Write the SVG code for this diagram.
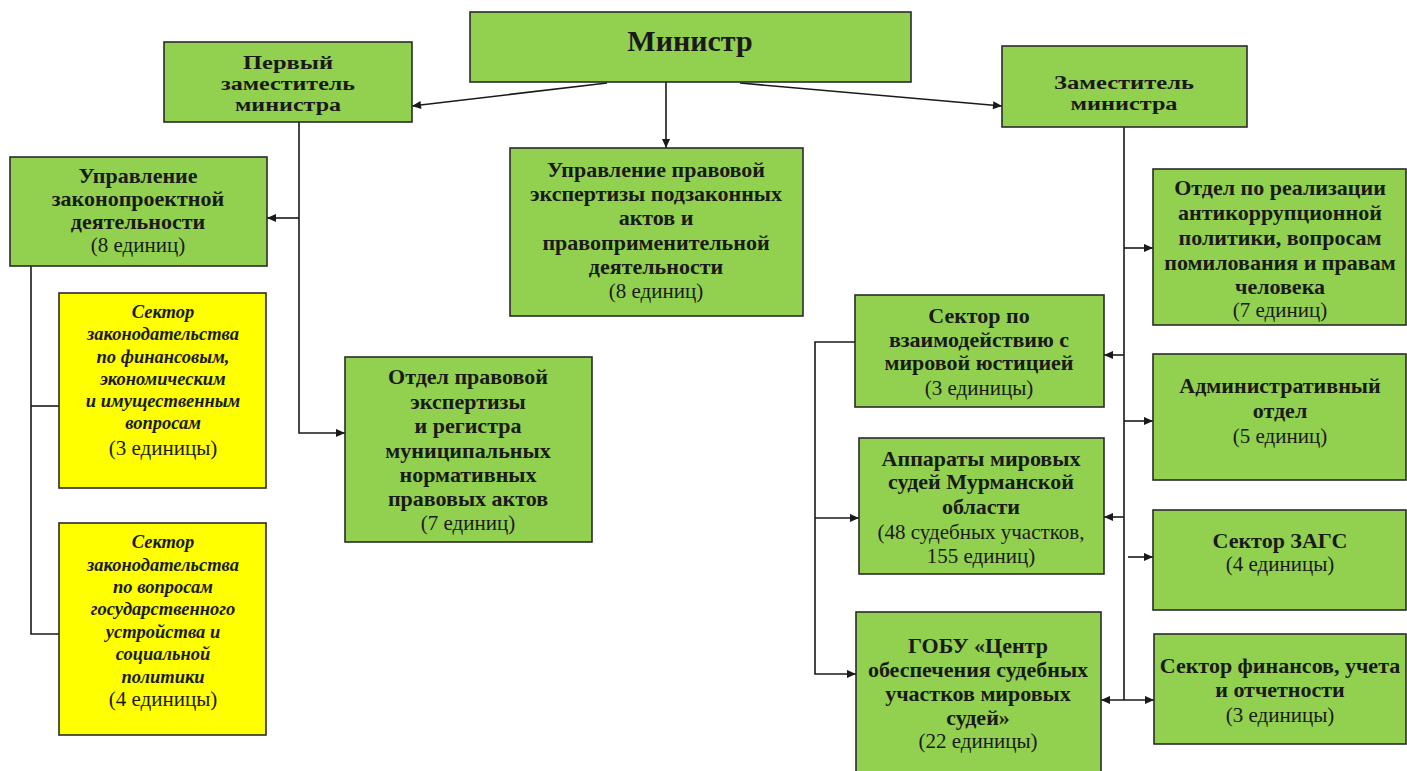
<svg xmlns="http://www.w3.org/2000/svg" width="1407" height="771" viewBox="0 0 1407 771">
<defs>
<style>
.g{fill:#92D050;stroke:#2b2b2b;stroke-width:1.6}
.y{fill:#FFFF00;stroke:#2b2b2b;stroke-width:1.6}
text{font-family:"Liberation Serif","Times New Roman",serif;fill:#1a1a1a;text-anchor:middle}
.b{font-weight:bold;font-size:22px}
.h{font-weight:bold;font-size:18px}
.m{font-weight:bold;font-size:30px}
.r{font-size:21px}
.i{font-style:italic;font-weight:bold;font-size:18.5px}
.c{fill:none;stroke:#1a1a1a;stroke-width:1.6}
</style>
<marker id="a" viewBox="0 0 10 10" refX="10" refY="5" markerWidth="10" markerHeight="9" markerUnits="userSpaceOnUse" orient="auto-start-reverse">
<path d="M0,0.5 L10,5 L0,9.5 z" fill="#1a1a1a"/>
</marker>
</defs>
<rect width="1407" height="771" fill="#ffffff"/>

<g id="connectors">
<path class="c" d="M607,83 L412,106" marker-end="url(#a)"/>
<path class="c" d="M740,83 L1002,106" marker-end="url(#a)"/>
<path class="c" d="M666,82 L666,148" marker-end="url(#a)"/>
<path class="c" d="M299,122 L299,433 L345,433" marker-end="url(#a)"/>
<path class="c" d="M299,218 L267,218" marker-end="url(#a)"/>
<path class="c" d="M31,266 L31,634 L59,634"/>
<path class="c" d="M31,406 L59,406"/>
<path class="c" d="M1124,127 L1124,700"/>
<path class="c" d="M1124,248 L1153,248" marker-end="url(#a)"/>
<path class="c" d="M1124,355 L1104,355" marker-end="url(#a)"/>
<path class="c" d="M1124,421 L1153,421" marker-end="url(#a)"/>
<path class="c" d="M1124,517 L1104,517" marker-end="url(#a)"/>
<path class="c" d="M1128,557 L1153,557" marker-end="url(#a)"/>
<path class="c" d="M1101,700 L1154,700" marker-start="url(#a)" marker-end="url(#a)"/>
<path class="c" d="M855,342 L815,342 L815,674 L856,674" marker-end="url(#a)"/>
<path class="c" d="M815,518 L859,518" marker-end="url(#a)"/>
</g>

<g id="minister">
<rect class="g" x="470" y="12" width="441" height="70"/>
<text class="m" x="690" y="51">Министр</text>
</g>

<g id="first-deputy">
<rect class="g" x="164" y="42" width="248" height="80"/>
<text class="h" x="288" y="69" textLength="90" lengthAdjust="spacingAndGlyphs">Первый</text>
<text class="h" x="288" y="90" textLength="134" lengthAdjust="spacingAndGlyphs">заместитель</text>
<text class="h" x="288" y="111" textLength="106" lengthAdjust="spacingAndGlyphs">министра</text>
</g>

<g id="deputy">
<rect class="g" x="1002" y="46" width="245" height="81"/>
<text class="h" x="1124" y="89" textLength="140" lengthAdjust="spacingAndGlyphs">Заместитель</text>
<text class="h" x="1124" y="110" textLength="107" lengthAdjust="spacingAndGlyphs">министра</text>
</g>

<g id="lawmaking">
<rect class="g" x="10" y="157" width="257" height="109"/>
<text class="b"><tspan x="138" y="183">Управление</tspan><tspan x="138" y="206">законопроектной</tspan><tspan x="138" y="229">деятельности</tspan></text>
<text class="r" x="138" y="252">(8 единиц)</text>
</g>

<g id="legal-expertise">
<rect class="g" x="510" y="148" width="293" height="168"/>
<text class="b"><tspan x="656" y="177">Управление правовой</tspan><tspan x="656" y="201">экспертизы подзаконных</tspan><tspan x="656" y="225">актов и</tspan><tspan x="656" y="250">правоприменительной</tspan><tspan x="656" y="274">деятельности</tspan></text>
<text class="r" x="656" y="298">(8 единиц)</text>
</g>

<g id="sector-finance-law">
<rect class="y" x="59" y="293" width="207" height="195"/>
<text class="i"><tspan x="163" y="318">Сектор</tspan><tspan x="163" y="340">законодательства</tspan><tspan x="163" y="363">по финансовым,</tspan><tspan x="163" y="385">экономическим</tspan><tspan x="163" y="407">и имущественным</tspan><tspan x="163" y="429">вопросам</tspan></text>
<text class="r" x="163" y="455">(3 единицы)</text>
</g>

<g id="sector-state-law">
<rect class="y" x="59" y="523" width="207" height="212"/>
<text class="i"><tspan x="163" y="548">Сектор</tspan><tspan x="163" y="571">законодательства</tspan><tspan x="163" y="593">по вопросам</tspan><tspan x="163" y="615">государственного</tspan><tspan x="163" y="638">устройства  и</tspan><tspan x="163" y="660">социальной</tspan><tspan x="163" y="683">политики</tspan></text>
<text class="r" x="163" y="706">(4 единицы)</text>
</g>

<g id="municipal-register">
<rect class="g" x="345" y="357" width="247" height="185"/>
<text class="b"><tspan x="468" y="384">Отдел правовой</tspan><tspan x="468" y="409">экспертизы</tspan><tspan x="468" y="433">и регистра</tspan><tspan x="468" y="458">муниципальных</tspan><tspan x="468" y="482">нормативных</tspan><tspan x="468" y="506">правовых актов</tspan></text>
<text class="r" x="468" y="530">(7 единиц)</text>
</g>

<g id="anticorruption">
<rect class="g" x="1153" y="169" width="253" height="156"/>
<text class="b"><tspan x="1280" y="195">Отдел по реализации</tspan><tspan x="1280" y="220">антикоррупционной</tspan><tspan x="1280" y="245">политики, вопросам</tspan><tspan x="1280" y="270">помилования  и правам</tspan><tspan x="1280" y="294">человека</tspan></text>
<text class="r" x="1280" y="317">(7 единиц)</text>
</g>

<g id="justice-sector">
<rect class="g" x="855" y="295" width="249" height="112"/>
<text class="b"><tspan x="979" y="323">Сектор по</tspan><tspan x="979" y="347">взаимодействию с</tspan><tspan x="979" y="370">мировой юстицией</tspan></text>
<text class="r" x="979" y="395">(3 единицы)</text>
</g>

<g id="admin">
<rect class="g" x="1153" y="354" width="253" height="126"/>
<text class="b"><tspan x="1280" y="393">Административный</tspan><tspan x="1280" y="418">отдел</tspan></text>
<text class="r" x="1280" y="443">(5 единиц)</text>
</g>

<g id="judges-apparatus">
<rect class="g" x="859" y="438" width="245" height="136"/>
<text class="b"><tspan x="981" y="466">Аппараты мировых</tspan><tspan x="981" y="489">судей Мурманской</tspan><tspan x="981" y="514">области</tspan></text>
<text class="r"><tspan x="981" y="539">(48 судебных участков,</tspan><tspan x="981" y="563">155 единиц)</tspan></text>
</g>

<g id="zags">
<rect class="g" x="1153" y="510" width="253" height="100"/>
<text class="b" x="1280" y="548">Сектор ЗАГС</text>
<text class="r" x="1280" y="571">(4 единицы)</text>
</g>

<g id="gobu">
<rect class="g" x="856" y="612" width="245" height="166"/>
<text class="b"><tspan x="978" y="653">ГОБУ «Центр</tspan><tspan x="978" y="677">обеспечения судебных</tspan><tspan x="978" y="701">участков мировых</tspan><tspan x="978" y="725">судей»</tspan></text>
<text class="r" x="978" y="748">(22 единицы)</text>
</g>

<g id="finance-sector">
<rect class="g" x="1154" y="634" width="252" height="110"/>
<text class="b"><tspan x="1280" y="673">Сектор финансов, учета</tspan><tspan x="1280" y="697">и отчетности</tspan></text>
<text class="r" x="1280" y="722">(3 единицы)</text>
</g>
</svg>
